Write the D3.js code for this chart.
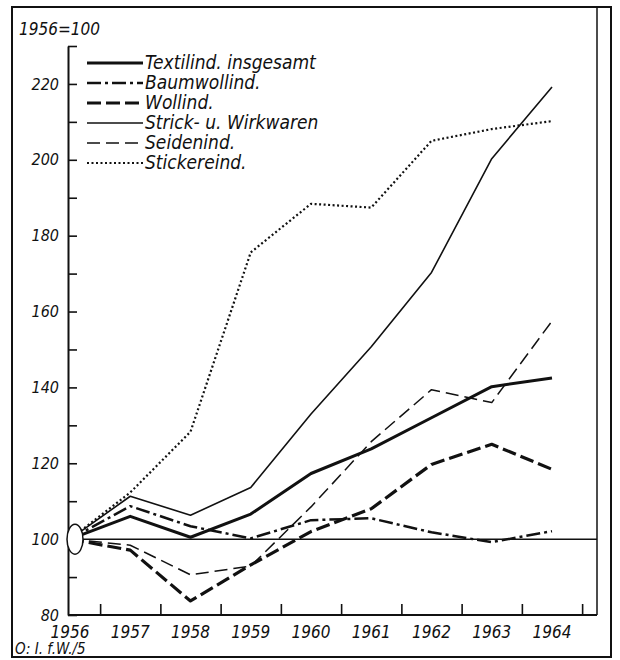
<!DOCTYPE html>
<html>

<head>
    <meta charset="UTF-8">
    <style>
        body { margin: 0; background: #fff; }
        text { font-family: "DejaVu Sans Condensed", "DejaVu Sans", sans-serif; font-style: italic; fill: #111; }
    </style>
</head>

<body>
    <svg></svg>
    <script src="https://d3js.org/d3.v7.min.js"></script>

    <script>

        let width = 620, height = 660;

        // data, index 1956 = 100
        const years = [1956, 1957, 1958, 1959, 1960, 1961, 1962, 1963, 1964];
        const seriesNames = ["Textilind. insgesamt", "Baumwollind.", "Wollind.", "Strick- u. Wirkwaren", "Seidenind.", "Stickereind."];
        const textil = [100, 106, 100.5, 106.6, 117.3, 123.8, 132, 140.2, 142.5];
        const baumwolle = [100, 108.7, 103.4, 100.2, 105, 105.5, 101.8, 99.2, 102.1];
        const wolle = [100, 97.1, 83.7, 93.2, 102, 108, 119.7, 125, 118.4];
        const strick = [100, 111.3, 106.3, 113.6, 133, 150.7, 170.3, 200.3, 219.2];
        const seide = [100, 98.4, 90.6, 92.9, 108.5, 125.7, 139.4, 136, 157.5];
        const stickerei = [100, 112.3, 128.3, 175.6, 188.4, 187.4, 205, 208.1, 210.2];
        const yTicks = d3.range(80, 231, 10);
        const yLabels = [80, 100, 120, 140, 160, 180, 200, 220];

        const allSeries = [textil, baumwolle, wolle, strick, seide, stickerei];
        // line styles: width, dash
        const styles = [
            { w: 3, dash: null },
            { w: 2.5, dash: "14,4,3,4" },
            { w: 3.2, dash: "14,5" },
            { w: 1.6, dash: null },
            { w: 1.5, dash: "13,6" },
            { w: 2.2, dash: "2,2.5" }
        ];

        let svg = d3.select("svg")
            .attr("width", width)
            .attr("height", height);

        const plotLeft = 68, plotRight = 597;

        const x = d3.scaleLinear().domain([1956, 1964]).range([70, 552]);
        const y = d3.scaleLinear().domain([80, 230]).range([615, 46]);

        // outer frame
        svg.append("rect")
            .attr("x", 12).attr("y", 7)
            .attr("width", 599).attr("height", 650)
            .attr("fill", "none").attr("stroke", "#111").attr("stroke-width", 2);

        // right border of plot
        svg.append("line")
            .attr("x1", plotRight).attr("x2", plotRight)
            .attr("y1", 7).attr("y2", y(80))
            .attr("stroke", "#111").attr("stroke-width", 1.5);

        // 100 reference line
        svg.append("line")
            .attr("x1", plotLeft).attr("x2", plotRight)
            .attr("y1", y(100)).attr("y2", y(100))
            .attr("stroke", "#111").attr("stroke-width", 1.5);

        // y axis
        const yAxis = d3.axisLeft(y)
            .tickValues(yTicks)
            .tickSizeInner(-9)
            .tickSizeOuter(0)
            .tickPadding(9)
            .tickFormat(d => yLabels.includes(d) ? d : "");

        const gy = svg.append("g")
            .attr("transform", "translate(" + plotLeft + ",0)")
            .call(yAxis);
        gy.attr("font-family", null).attr("font-size", null);
        gy.select(".domain").attr("stroke", "#111").attr("stroke-width", 2);
        gy.selectAll(".tick line").attr("stroke", "#111").attr("stroke-width", 1.6);
        gy.selectAll(".tick text").style("font-size", "16px");

        // x axis baseline with ticks between years
        svg.append("line")
            .attr("x1", plotLeft).attr("x2", plotRight)
            .attr("y1", y(80)).attr("y2", y(80))
            .attr("stroke", "#111").attr("stroke-width", 2);

        const xAxis = d3.axisBottom(x)
            .tickValues(years.map(d => d + 0.5))
            .tickSizeInner(-11)
            .tickSizeOuter(0)
            .tickFormat("");
        const gx = svg.append("g")
            .attr("transform", "translate(0," + y(80) + ")")
            .call(xAxis);
        gx.select(".domain").remove();
        gx.selectAll(".tick line").attr("stroke", "#111").attr("stroke-width", 1.6);

        svg.append("g")
            .selectAll("text")
            .data(years)
            .enter()
            .append("text")
            .attr("x", d => x(d))
            .attr("y", 638)
            .attr("text-anchor", "middle")
            .style("font-size", "17px")
            .text(d => d);

        // lines
        const line = d3.line()
            .x((d, i) => x(years[i]))
            .y(d => y(d));

        svg.append("g")
            .selectAll("path")
            .data(allSeries)
            .enter()
            .append("path")
            .attr("d", line)
            .attr("fill", "none")
            .attr("stroke", "#111")
            .attr("stroke-width", (d, i) => styles[i].w)
            .attr("stroke-dasharray", (d, i) => styles[i].dash)
            .attr("stroke-linejoin", "round");

        // start marker
        svg.append("ellipse")
            .attr("cx", 75).attr("cy", y(100))
            .attr("rx", 8).attr("ry", 15)
            .attr("fill", "#fff")
            .attr("stroke", "#111").attr("stroke-width", 1.5);

        // legend
        const legend = svg.append("g").attr("class", "legend");
        const rows = legend.selectAll("g")
            .data(seriesNames)
            .enter()
            .append("g")
            .attr("transform", (d, i) => "translate(87," + (63 + i * 20) + ")");

        rows.append("line")
            .attr("x1", 0).attr("x2", 56)
            .attr("y1", 0).attr("y2", 0)
            .attr("stroke", "#111")
            .attr("stroke-width", (d, i) => styles[i].w)
            .attr("stroke-dasharray", (d, i) => styles[i].dash);

        rows.append("text")
            .attr("x", 58)
            .attr("y", 6)
            .style("font-size", "19px")
            .text(d => d);

        // labels
        svg.append("text")
            .attr("x", 19).attr("y", 35)
            .style("font-size", "17px")
            .text("1956=100");

        svg.append("text")
            .attr("x", 15).attr("y", 654)
            .style("font-size", "15px")
            .text("O: I. f.W./5");

    </script>

</body>

</html>
